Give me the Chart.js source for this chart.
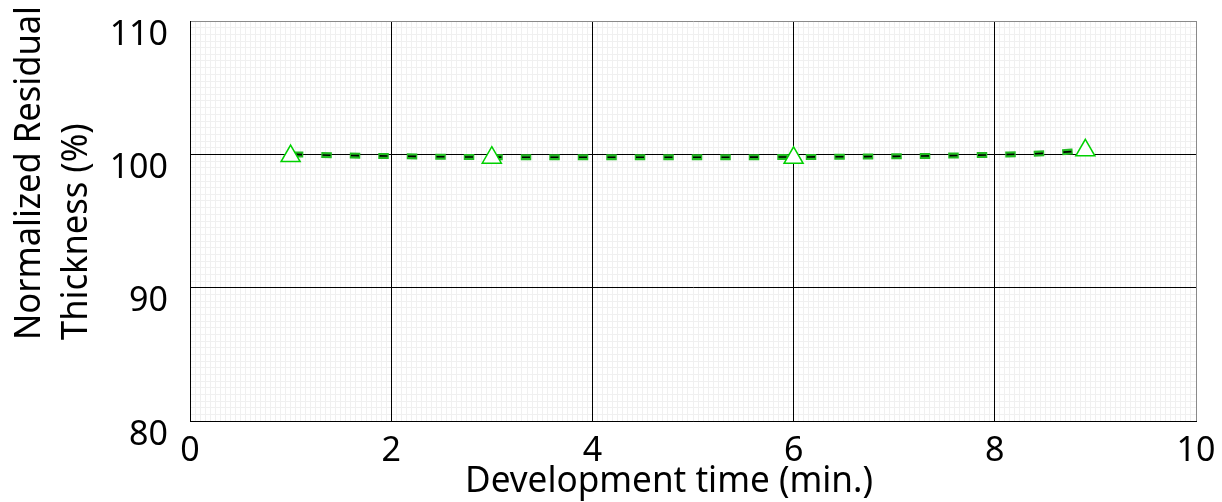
<!DOCTYPE html>
<html>
<head>
<meta charset="utf-8">
<script src="https://cdn.jsdelivr.net/npm/chart.js@4"></script>
<style>
  body { margin: 0; background: #fff; }
  #wrap { width: 1222px; height: 502px; position: relative; }
</style>
</head>
<body>
<div id="wrap"><canvas id="thicknessChart"></canvas></div>
<script>
// measured points (triangles)
let markerX = [1, 3, 6, 8.9];
let markerY = [99.87, 99.75, 99.74, 100.3];

// fitted trend (dashed curve)
let fitX = [1, 1.5, 2, 2.5, 3, 4, 5, 6, 7, 7.5, 8, 8.5, 8.9];
let fitY = [100.0, 99.92, 99.87, 99.82, 99.79, 99.78, 99.78, 99.8, 99.85, 99.9, 99.97, 100.08, 100.28];

let xTickLabels = ["0", "2", "4", "6", "8", "10"];
let yTickLabels = ["80", "90", "100", "110"];

let xTitle = "Development time (min.)";
let yTitle = ["Normalized Residual", "Thickness (%)"];

let fontName = '"Noto Sans", "Open Sans", sans-serif';

function toPoints(xs, ys) {
    return xs.map((x, i) => ({ x: x, y: ys[i] }));
}

function noPadding(scale) {
    scale.paddingTop = 0;
    scale.paddingBottom = 0;
    scale.paddingLeft = 0;
    scale.paddingRight = 0;
}

// axis titles drawn as canvas text, squeezed a bit to match the narrow original font
let titlePlugin = {
    id: "titles",
    afterDraw(chart) {
        let ctx = chart.ctx;
        ctx.save();
        ctx.fillStyle = "#000";
        ctx.font = "37px " + fontName;
        ctx.textBaseline = "alphabetic";

        let sx = 408 / ctx.measureText(xTitle).width;
        ctx.save();
        ctx.translate(669, 492);
        ctx.scale(sx, 1);
        ctx.textAlign = "center";
        ctx.fillText(xTitle, 0, 0);
        ctx.restore();

        let sy = 334 / ctx.measureText(yTitle[0]).width;
        let baselines = [40, 87];
        yTitle.forEach((line, i) => {
            ctx.save();
            ctx.translate(baselines[i], 340);
            ctx.rotate(-Math.PI / 2);
            ctx.scale(sy, 1);
            ctx.textAlign = "left";
            ctx.fillText(line, 0, 0);
            ctx.restore();
        });
        ctx.restore();
    }
};

let minorAxis = (axis, position, step) => ({
    type: "linear",
    axis: axis,
    position: position,
    min: axis === "x" ? 0 : 80,
    max: axis === "x" ? 10 : 110,
    afterFit(scale) {
        if (axis === "x") scale.height = 0; else scale.width = 0;
        noPadding(scale);
    },
    ticks: { display: false, stepSize: step, autoSkip: false },
    grid: { drawTicks: false, color: "#f0f0f0", z: -1 },
    border: { display: false }
});

let chart = new Chart(document.getElementById("thicknessChart"), {
    type: "scatter",
    data: {
        datasets: [
            {
                label: "Measured",
                data: toPoints(markerX, markerY),
                pointStyle: "triangle",
                pointRadius: 11,
                pointHoverRadius: 11,
                pointBackgroundColor: "#fff",
                pointBorderColor: "#00d000",
                pointBorderWidth: 1.5,
                showLine: false
            },
            {
                label: "Fit core",
                data: toPoints(fitX, fitY),
                showLine: true,
                borderColor: "#000",
                borderWidth: 1.6,
                borderDash: [8, 20.5],
                borderDashOffset: -3.4,
                borderCapStyle: "butt",
                pointRadius: 0,
                cubicInterpolationMode: "monotone"
            },
            {
                label: "Fit",
                data: toPoints(fitX, fitY),
                showLine: true,
                borderColor: "#22bb22",
                borderWidth: 6,
                borderDash: [10.5, 18],
                borderDashOffset: -2.2,
                borderCapStyle: "butt",
                pointRadius: 0,
                cubicInterpolationMode: "monotone"
            }
        ]
    },
    options: {
        responsive: true,
        maintainAspectRatio: false,
        animation: false,
        layout: { padding: { top: 21, right: 26, left: 0, bottom: 0 } },
        plugins: {
            legend: { display: false },
            tooltip: { enabled: false }
        },
        scales: {
            xm: minorAxis("x", "bottom", 0.05),
            ym: minorAxis("y", "left", 0.5),
            x: {
                type: "linear",
                min: 0,
                max: 10,
                afterFit(scale) {
                    scale.height = 81;
                    noPadding(scale);
                },
                ticks: {
                    stepSize: 2,
                    maxRotation: 0,
                    minRotation: 0,
                    padding: 10,
                    color: "#000",
                    font: { family: fontName, size: 34 },
                    callback: (v, i) => xTickLabels[i]
                },
                grid: {
                    drawTicks: false,
                    color: c => (c.tick && c.tick.value === 10) ? "#8a8a8a" : "#000"
                },
                border: { color: "#000", width: 1 }
            },
            y: {
                type: "linear",
                min: 80,
                max: 110,
                afterFit(scale) {
                    scale.width = 190;
                    noPadding(scale);
                },
                ticks: {
                    stepSize: 10,
                    padding: 22,
                    labelOffset: 14,
                    color: "#000",
                    font: { family: fontName, size: 34 },
                    callback: (v, i) => yTickLabels[i]
                },
                grid: {
                    drawTicks: false,
                    color: c => (c.tick && c.tick.value === 110) ? "#8a8a8a" : "#000"
                },
                border: { color: "#000", width: 1 }
            }
        }
    },
    plugins: [titlePlugin]
});
</script>
</body>
</html>
